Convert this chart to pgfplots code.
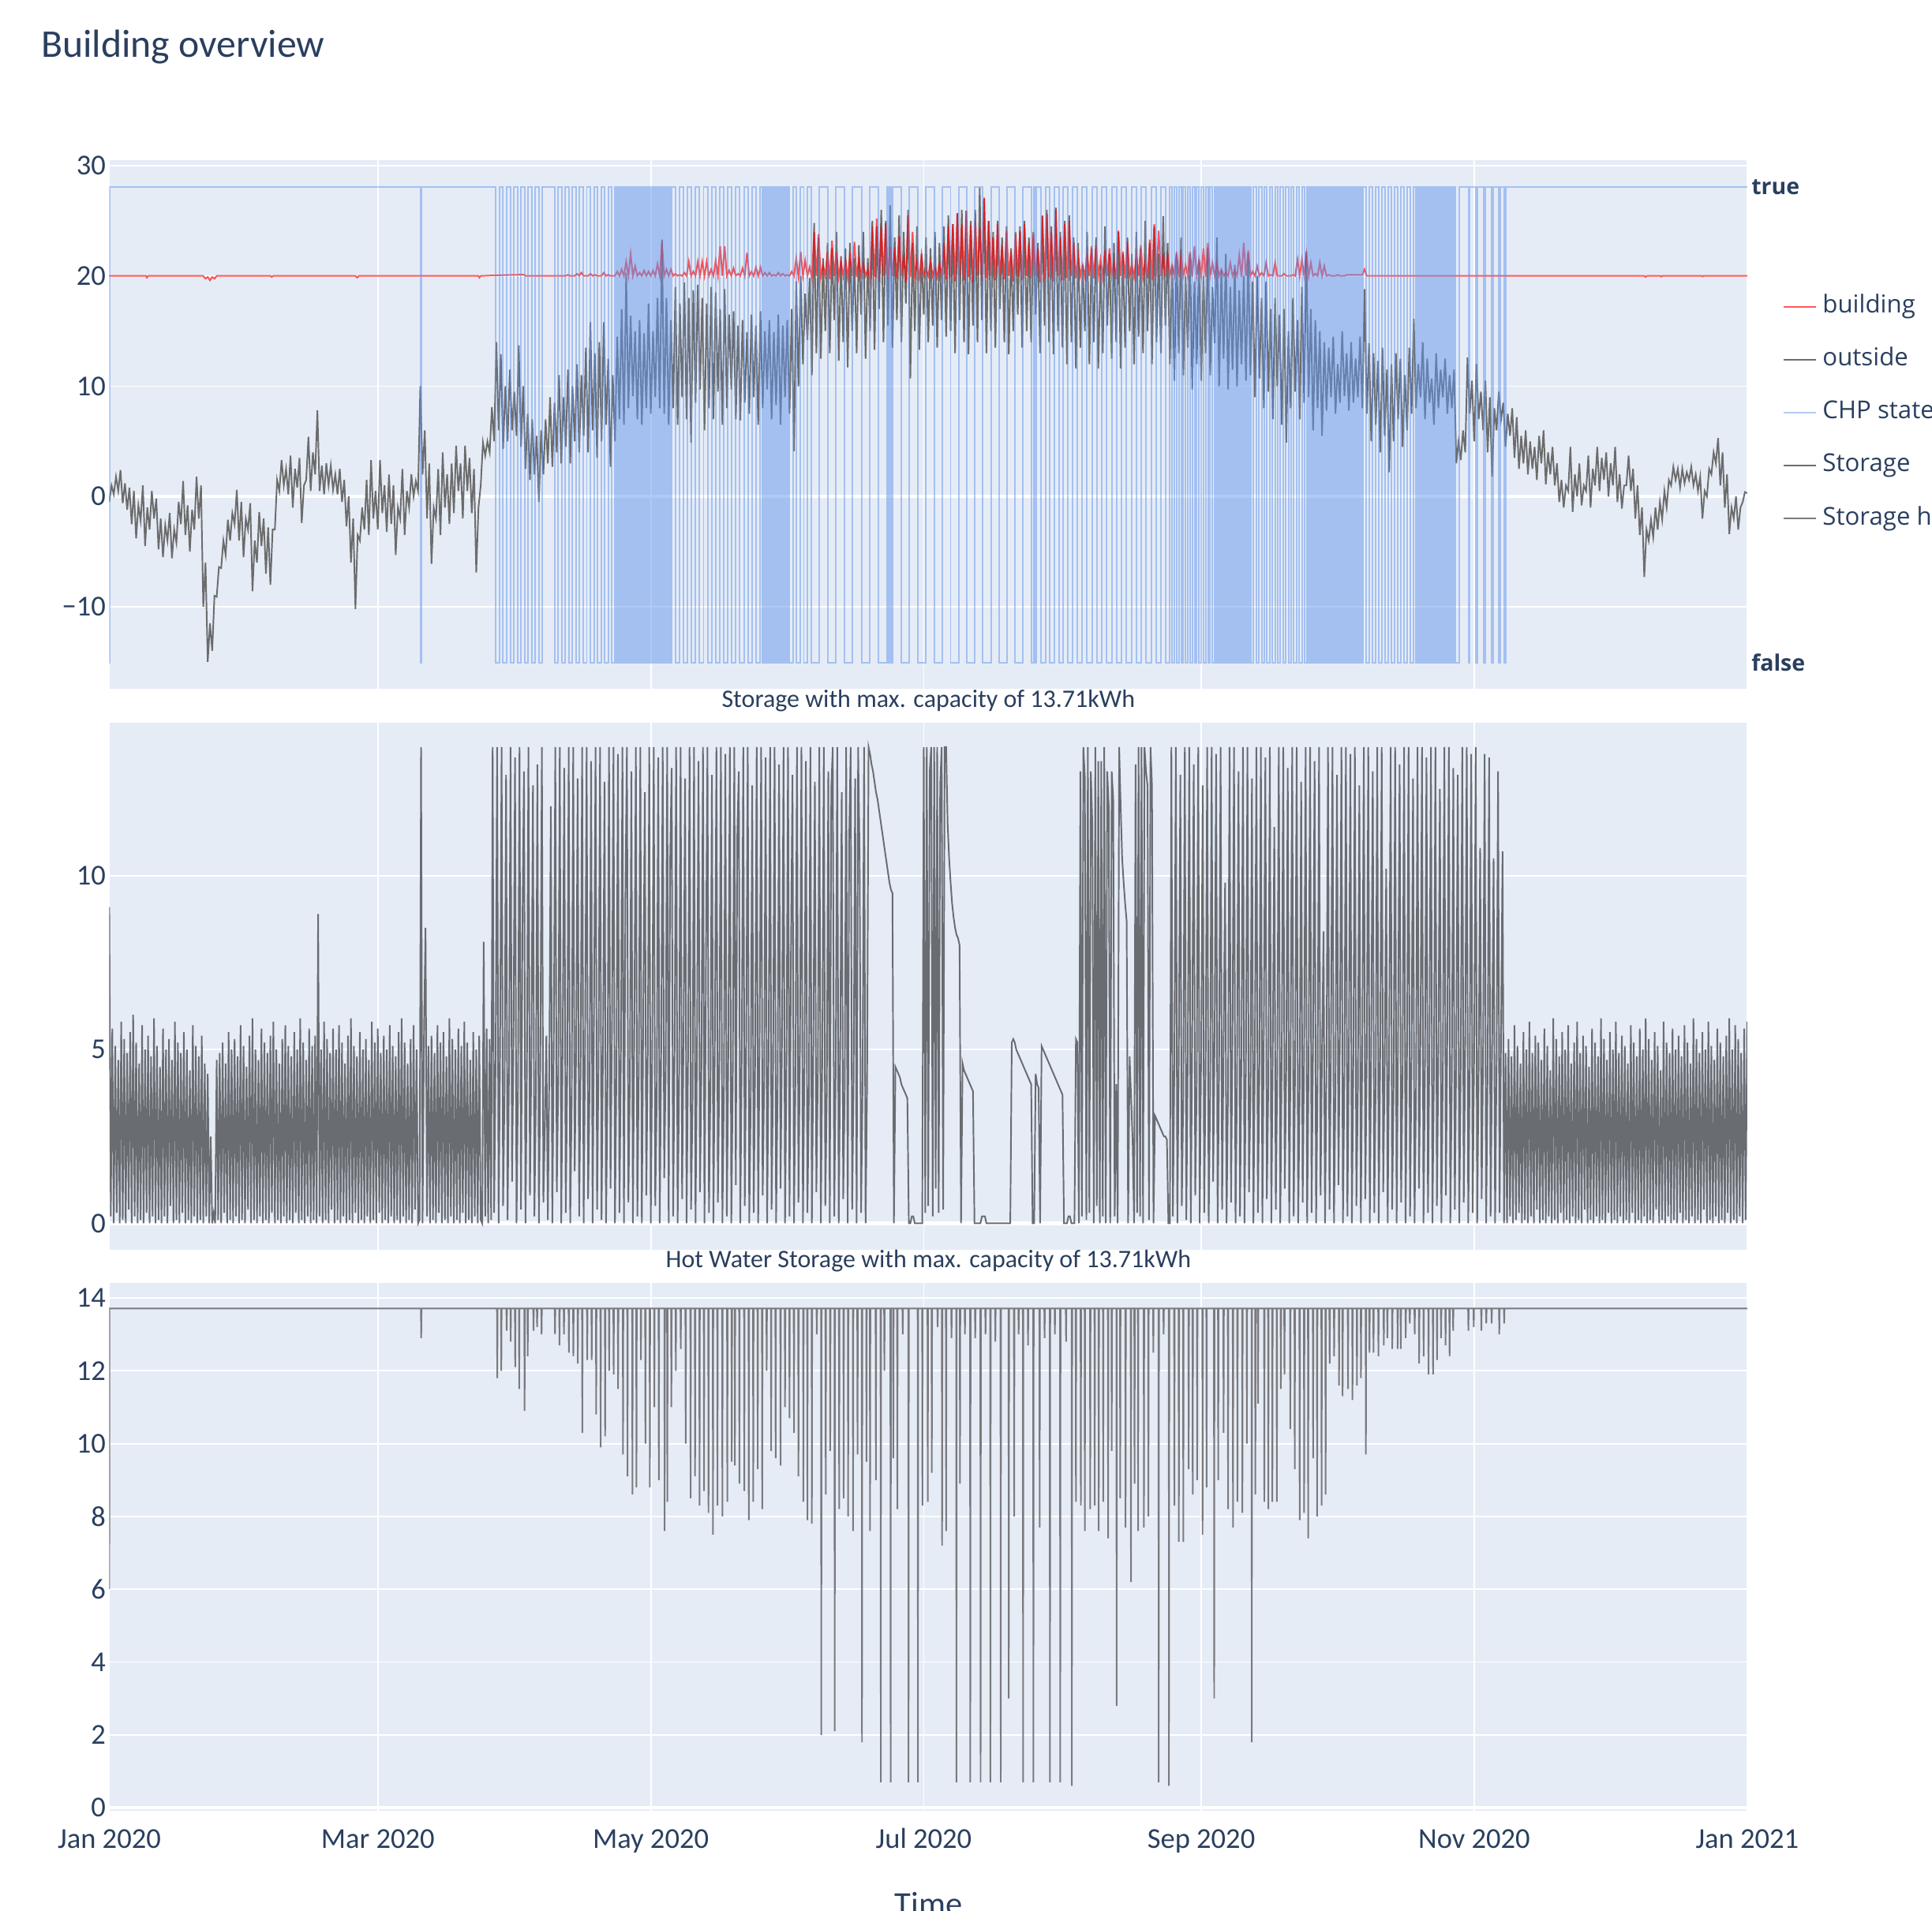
\documentclass[border=0pt]{standalone}
\usepackage{fontspec}
\setmainfont{Carlito}
\newfontfamily\osans{Open Sans}
\usepackage{pgfplots}
\usepackage{pgfplotstable}
\pgfplotsset{compat=1.18}
\definecolor{bgc}{HTML}{E5ECF6}
\definecolor{txt}{HTML}{2A3F5F}
\definecolor{chp}{RGB}{100,149,237}
\definecolor{gout}{RGB}{108,108,108}
\definecolor{gsto}{RGB}{105,108,113}
\definecolor{ghw}{RGB}{122,122,126}

\pgfplotstableread[header=false]{
-0.5
1.0
0.2
1.8
0.5
2.4
-0.6
1.2
-1.2
0.8
-2.5
0.5
-3.8
-0.8
-2.2
1.0
-4.5
-1.0
-3.0
0.5
-2.0
-0.2
-4.8
-2.0
-5.5
-2.6
-4.0
-1.5
-5.6
-3.0
-4.2
-0.5
-2.5
1.4
-3.5
-0.8
-5.0
-1.2
-3.0
1.8
-2.0
1.0
-10.0
-6.0
-15.0
-11.5
-14.0
-9.0
-9.1
-6.4
-6.5
-4.0
-5.3
-2.1
-4.0
-1.5
-2.5
0.6
-4.0
-0.5
-5.5
-2.0
-3.0
-0.6
-8.6
-4.0
-6.0
-1.4
-4.5
-2.0
-7.0
-2.8
-8.0
-3.0
-3.0
1.5
0.5
3.3
1.0
2.5
0.2
3.7
-1.0
2.5
0.8
3.5
-2.4
1.0
1.5
5.4
0.5
4.0
2.0
7.8
0.5
2.8
0.2
3.0
1.0
2.8
0.6
2.0
0.2
2.5
-0.5
1.5
-2.7
0.0
-6.0
-2.0
-10.2
-3.5
-4.0
-1.0
-3.0
1.5
-3.5
3.3
-2.0
0.5
-3.0
3.3
-1.5
1.0
-3.2
2.0
-2.5
1.0
-5.3
-1.0
-2.0
2.5
-3.5
0.5
-1.0
2.0
0.0
1.4
0.5
10.0
2.0
6.0
-2.0
3.0
-6.1
-1.0
-2.0
2.5
-3.5
4.0
-1.0
2.0
-2.5
3.0
-1.5
4.6
0.5
3.0
-2.0
4.6
0.5
3.5
-1.5
2.5
-6.9
-1.0
1.0
4.9
3.7
5.0
4.0
8.1
5.0
14.0
6.0
12.9
4.3
10.0
5.0
11.5
6.0
9.5
5.5
13.7
4.5
10.0
2.5
7.5
1.5
7.0
2.0
5.5
-0.5
6.0
2.0
7.0
3.0
9.0
2.7
8.5
4.0
11.0
3.0
9.0
4.5
11.5
3.0
10.0
5.0
12.0
4.0
11.0
5.5
13.5
4.0
15.8
6.0
13.0
3.5
14.0
5.0
15.8
6.5
12.5
2.7
11.0
5.0
14.5
7.0
17.0
6.5
20.3
8.0
16.4
9.1
15.0
7.0
16.0
6.5
14.8
8.0
17.5
7.5
15.0
9.0
18.0
8.0
23.3
7.5
18.0
6.5
16.0
8.0
19.0
6.5
17.5
9.0
19.4
7.0
18.0
4.9
18.7
8.5
19.2
9.7
18.0
6.0
17.5
8.0
19.0
7.0
18.5
9.5
17.0
6.5
18.8
8.0
16.5
9.7
16.8
7.0
15.5
6.9
16.0
8.5
14.9
7.5
16.5
9.0
15.5
6.5
16.8
8.0
15.0
9.7
16.0
7.0
14.9
8.3
16.5
6.5
15.5
9.0
16.0
7.5
17.0
4.1
19.5
10.0
20.0
12.0
18.4
14.2
19.8
11.0
24.8
13.0
23.5
12.5
21.6
15.0
23.0
13.0
22.5
16.0
24.0
12.3
21.8
14.0
22.5
11.7
23.0
15.0
21.6
13.0
22.8
16.5
24.0
12.5
21.6
15.0
25.0
13.3
24.5
17.0
26.0
14.0
25.0
15.5
26.4
13.5
23.5
16.0
25.5
14.0
24.0
17.5
26.0
10.7
23.0
15.0
24.5
13.3
22.0
16.5
23.5
14.0
22.5
15.5
24.0
13.5
23.0
16.0
24.5
14.5
25.5
15.0
24.7
13.0
25.7
16.0
26.0
14.0
25.9
12.9
25.0
15.5
26.0
14.0
28.0
16.0
27.0
13.0
25.0
15.0
24.0
13.5
25.0
17.0
23.5
14.0
24.5
12.9
22.5
15.0
24.0
16.5
24.5
13.5
25.0
15.0
23.5
14.0
24.0
16.5
23.0
13.0
25.5
15.5
26.0
14.0
24.5
12.9
26.2
15.0
24.0
13.5
25.0
12.0
25.5
14.0
23.5
11.6
23.0
13.5
21.0
15.0
24.0
12.0
22.5
14.0
23.5
11.6
21.0
13.0
24.5
15.5
22.0
12.5
23.0
14.0
24.0
11.6
22.0
13.5
23.5
15.0
22.0
12.0
24.0
14.5
22.5
13.0
25.0
15.0
23.0
12.0
24.5
14.0
22.0
13.0
25.4
15.5
23.0
12.0
21.0
10.5
22.0
13.0
23.5
11.0
20.0
13.5
22.0
9.7
19.5
12.0
21.5
10.5
20.0
13.0
22.5
11.0
19.0
13.9
23.5
10.0
20.5
12.5
22.0
9.7
19.0
11.5
21.0
10.0
18.7
12.0
20.0
10.5
22.0
11.0
19.5
9.0
20.0
10.7
18.0
8.0
19.5
9.5
17.0
7.0
18.0
10.0
16.5
6.5
17.0
4.9
15.0
8.0
18.0
9.5
16.0
7.0
19.0
8.5
22.2
9.0
17.0
6.0
16.0
8.0
15.0
5.5
14.0
7.8
13.5
9.0
14.5
7.5
12.0
8.5
15.0
9.1
13.0
7.8
14.0
8.5
12.5
9.0
14.5
8.0
18.8
7.5
13.9
5.0
13.0
6.5
12.3
4.0
13.5
5.5
11.5
2.2
12.0
5.0
13.0
7.0
12.5
4.5
11.0
6.0
13.5
7.5
16.1
8.0
12.0
9.0
14.0
7.0
12.5
8.5
10.7
6.5
13.0
8.0
11.5
9.0
12.5
7.5
11.0
8.0
11.5
3.0
5.0
3.3
6.0
4.0
12.6
7.5
10.5
5.0
12.0
7.0
9.5
6.0
10.5
4.0
9.0
1.8
8.0
6.0
9.5
7.0
8.5
4.5
7.5
5.5
8.0
3.5
7.2
2.5
5.5
3.0
6.0
2.0
5.0
2.5
4.5
1.5
5.5
3.0
6.0
1.1
4.0
2.0
4.5
1.0
3.0
-0.5
1.5
-1.0
1.0
0.5
4.5
-1.4
2.0
0.0
3.0
-0.8
1.0
0.5
3.7
-1.0
2.5
1.0
4.5
0.5
3.5
1.5
4.0
0.0
3.0
1.0
4.5
-0.5
2.0
-1.1
1.0
1.0
3.7
0.5
2.5
-2.0
1.0
-3.5
-1.0
-7.3
-3.0
-4.0
-2.1
-3.7
-1.0
-3.0
-0.5
-2.1
0.5
-1.0
1.5
1.0
2.7
1.5
2.5
0.8
2.5
1.2
2.2
1.5
2.7
1.0
2.0
0.5
1.8
-2.0
0.5
0.0
2.5
2.0
4.0
3.0
5.3
1.0
4.0
-1.0
2.0
-3.4
-1.0
-2.0
0.0
-3.0
-1.0
-0.5
0.4
0.3
}\outsidedata

\pgfplotstableread[header=false]{
20.0
20.0
20.0
20.0
20.0
20.1
20.0
20.0
20.0
20.2
20.0
20.3
20.0
20.0
20.0
20.2
20.0
20.1
20.0
20.0
20.0
20.3
20.0
20.1
20.0
20.0
20.0
20.4
20.0
20.6
20.0
21.3
20.0
22.0
20.0
20.9
20.0
20.3
20.0
20.5
20.0
20.4
20.0
20.5
20.0
21.1
20.0
23.0
20.0
20.6
20.0
20.6
20.0
20.2
20.0
20.1
20.0
20.3
20.0
21.3
20.0
20.4
20.0
21.3
20.0
21.3
20.0
21.3
20.0
20.6
20.0
21.4
20.0
22.7
20.0
22.7
20.0
20.5
20.0
20.7
20.0
20.2
20.0
20.7
20.0
22.1
20.0
20.4
20.0
20.8
20.0
20.8
20.0
20.3
20.0
20.3
20.0
20.1
20.0
20.3
20.0
20.2
20.0
20.1
20.0
20.4
20.0
21.6
19.9
22.2
20.0
21.4
20.0
20.8
19.8
24.0
20.0
23.8
19.9
21.0
20.0
22.2
19.7
23.2
20.0
22.2
19.9
21.3
20.0
21.5
19.8
21.9
20.0
23.1
19.9
21.5
20.0
21.1
20.0
20.6
19.6
24.5
19.9
25.2
19.5
24.5
20.0
24.8
19.7
22.6
20.0
22.6
19.8
23.6
20.0
21.9
19.4
25.5
19.9
24.0
20.0
21.3
19.8
21.9
20.0
20.6
20.0
21.3
20.0
20.8
19.9
21.1
20.0
23.0
19.7
24.5
19.9
24.7
19.5
25.7
20.0
24.7
19.6
25.9
19.9
24.6
19.4
25.0
20.0
24.4
19.5
27.1
19.8
25.0
20.0
23.5
19.6
24.7
20.0
22.7
19.7
24.1
20.0
22.2
19.5
23.8
19.9
24.1
19.6
24.7
20.0
23.0
19.8
23.8
20.0
22.5
19.4
25.4
19.7
25.7
19.9
24.0
19.5
26.0
20.0
23.5
19.6
24.7
19.8
25.0
20.0
23.0
19.8
21.9
20.0
21.0
19.9
22.0
20.0
22.7
19.8
22.8
20.0
21.5
19.9
22.3
20.0
22.5
20.0
21.2
19.7
24.1
20.0
22.2
19.8
23.1
20.0
21.0
19.9
21.9
20.0
22.8
19.9
21.4
19.8
23.3
19.6
24.7
19.9
24.1
20.0
22.0
19.9
21.9
20.0
21.0
20.0
22.2
19.9
21.9
20.0
21.0
20.0
22.2
19.9
22.7
20.0
21.5
20.0
22.5
19.9
23.0
20.0
21.2
20.0
21.2
20.0
20.6
20.0
20.3
20.0
21.2
20.0
20.5
20.0
21.9
19.9
23.0
20.0
22.3
20.0
20.4
20.0
20.9
20.0
20.3
20.0
21.2
20.0
20.1
20.0
21.2
20.0
20.0
20.0
20.2
20.0
20.0
20.0
20.1
20.0
21.5
20.0
21.5
20.0
22.0
20.0
21.2
20.0
20.2
20.0
21.2
20.0
20.9
20.0
20.1
20.0
20.0
20.0
20.1
20.0
20.0
20.0
20.1
20.1
20.1
20.1
20.1
20.1
20.1
20.1
20.6
20.0
20.0
20.0
}\buildingdata

\pgfplotstableread[header=false]{
9.1
0.2
5.6
0.0
5.1
0.3
4.7
0.0
5.8
0.1
5.3
0.0
4.9
0.4
5.5
0.0
6.0
0.2
5.2
0.0
4.6
0.1
5.7
0.0
5.0
0.3
5.4
0.0
4.8
0.2
5.9
0.0
5.1
0.1
4.5
0.0
5.6
0.2
5.0
0.0
5.3
0.5
4.7
0.0
5.8
0.1
5.2
0.0
4.9
0.3
5.5
0.0
5.0
0.1
4.4
0.0
5.7
0.2
5.1
0.0
4.8
0.1
5.4
0.0
4.6
0.2
4.3
0.0
2.5
0.0
0.3
0.0
4.7
0.1
4.9
0.0
5.2
0.3
4.6
0.0
5.5
0.1
5.0
0.0
5.3
0.2
4.8
0.0
5.7
0.1
5.1
0.0
4.5
0.4
5.4
0.0
5.9
0.1
5.0
0.0
4.7
0.2
5.6
0.0
5.2
0.1
4.9
0.0
5.4
0.3
5.8
0.0
5.0
0.1
4.6
0.0
5.3
0.2
5.7
0.0
5.1
0.1
4.8
0.0
5.5
0.3
5.0
0.0
5.9
0.1
5.2
0.0
4.7
0.2
5.6
0.0
5.1
0.1
5.4
0.0
8.9
0.2
5.0
0.0
5.8
0.1
5.3
0.0
4.9
0.4
5.6
0.0
5.0
0.1
5.7
0.0
5.2
0.2
4.6
0.0
5.4
0.1
5.9
0.0
5.1
0.3
4.8
0.0
5.5
0.1
5.0
0.0
5.3
0.2
4.7
0.0
5.8
0.1
5.2
0.0
5.6
0.3
4.9
0.0
5.4
0.1
5.0
0.0
5.7
0.2
5.1
0.0
4.8
0.1
5.5
0.0
5.9
0.2
5.2
0.0
4.6
0.1
5.3
0.0
5.7
0.4
5.0
0.0
0.1
13.7
0.0
5.6
8.5
0.2
5.1
0.0
5.4
0.1
4.9
0.0
5.7
0.3
5.2
0.0
5.5
0.1
4.8
0.0
5.9
0.2
5.3
0.0
5.0
0.1
5.6
0.0
5.1
0.3
5.8
0.0
5.2
0.1
4.7
0.0
5.5
0.2
5.0
0.0
5.4
0.1
0.0
8.1
0.2
5.6
0.0
5.3
0.1
13.7
0.3
4.8
13.7
0.0
5.2
13.7
0.5
3.9
12.9
0.1
4.6
13.7
1.2
5.5
13.4
0.0
4.1
13.7
0.4
8.7
13.0
0.0
4.6
13.7
0.8
5.0
12.6
0.2
3.8
13.2
0.0
4.9
13.7
0.6
2.8
5.4
0.1
4.5
12.0
0.0
5.3
13.7
0.9
4.2
13.7
0.0
5.6
13.1
0.3
4.4
13.7
0.0
3.6
13.7
1.5
5.1
12.8
0.2
4.7
13.7
0.0
5.4
13.7
0.7
4.0
13.3
0.0
6.5
13.7
0.4
4.8
13.7
0.1
5.2
12.7
0.0
3.9
13.7
1.0
5.7
13.7
0.0
4.5
13.5
0.3
5.0
13.7
0.0
9.5
13.7
0.6
4.3
13.0
0.0
5.8
13.7
0.2
4.6
13.7
0.0
6.2
12.4
0.8
4.9
13.7
0.0
5.3
13.7
0.5
3.7
13.4
0.0
5.0
13.7
1.3
4.4
13.7
0.0
10.5
13.1
0.2
5.1
13.7
0.0
4.2
13.7
0.7
5.6
12.8
0.0
4.8
13.7
0.4
3.5
13.7
0.0
5.2
13.3
0.9
4.6
13.7
0.0
7.6
13.7
0.3
4.0
12.9
0.0
5.5
13.7
0.6
4.7
13.7
0.0
3.8
13.5
0.2
5.0
13.7
0.0
4.4
13.7
1.1
11.2
13.0
0.0
4.9
13.7
0.5
5.3
13.7
0.0
3.6
12.6
0.3
4.8
13.7
0.0
5.6
13.7
0.8
4.1
13.4
0.0
5.0
13.7
0.4
4.5
13.7
0.0
3.9
13.2
1.0
5.4
13.7
0.0
4.7
13.7
0.2
8.0
12.9
0.0
4.3
13.7
0.6
5.1
13.7
0.0
4.6
13.3
0.3
3.7
13.7
0.0
5.2
12.7
0.9
4.4
13.7
0.0
4.9
13.7
0.5
3.8
13.0
0.0
12.5
13.7
0.2
4.6
13.7
0.0
5.0
12.4
0.7
3.9
13.7
0.0
11.0
13.7
0.4
4.3
12.8
0.0
13.7
10.5
0.3
4.1
13.7
0.0
4.0
13.7
13.5
13.2
13.0
12.7
12.4
12.2
11.9
11.6
11.3
11.0
10.7
10.4
10.1
9.8
9.6
9.5
0.0
4.5
4.4
4.3
4.2
4.0
3.9
3.8
3.7
3.6
0.0
0.0
0.2
0.2
0.0
0.0
0.0
0.0
0.0
0.0
13.7
0.3
13.7
0.5
13.0
13.7
0.2
13.7
1.0
13.7
0.3
12.6
13.7
0.4
13.7
13.7
11.5
10.5
9.8
9.2
8.8
8.5
8.3
8.2
8.0
0.0
4.6
4.4
4.3
4.2
4.1
4.0
3.9
3.8
0.0
0.0
0.0
0.0
0.0
0.2
0.2
0.2
0.0
0.0
0.0
0.0
0.0
0.0
0.0
0.0
0.0
0.0
0.0
0.0
0.0
0.0
0.0
0.0
0.0
5.2
5.3
5.2
5.0
4.9
4.8
4.7
4.6
4.5
4.4
4.3
4.2
4.1
4.0
0.0
0.0
4.3
4.0
3.9
0.0
5.1
5.0
4.9
4.8
4.7
4.6
4.5
4.4
4.3
4.2
4.1
4.0
3.9
3.8
3.7
0.0
0.0
0.0
0.2
0.2
0.0
0.0
0.0
5.3
5.2
0.0
13.0
0.2
13.7
12.8
0.1
13.7
0.3
13.0
11.5
0.0
13.7
0.5
13.3
0.0
13.3
0.2
13.7
0.0
13.0
12.0
0.0
13.0
12.2
0.2
4.0
0.0
13.7
12.0
10.5
9.8
9.2
8.7
0.0
4.8
3.6
2.4
0.0
13.2
0.3
13.7
0.2
13.7
0.0
13.7
13.0
12.6
0.1
13.7
12.6
0.0
3.1
3.0
2.9
2.8
2.7
2.6
2.5
2.5
2.4
0.0
0.0
13.7
0.2
4.5
13.7
0.0
5.0
12.9
0.5
3.8
13.7
0.1
4.9
13.7
0.0
5.6
13.2
0.8
4.2
13.7
0.0
5.1
12.6
0.3
4.7
13.7
0.0
3.9
13.7
1.2
5.4
13.5
0.0
4.6
13.7
0.4
5.2
9.8
0.0
4.0
13.7
0.6
5.7
13.7
0.0
4.3
13.0
0.2
5.0
13.7
0.0
4.8
13.7
0.9
3.7
12.8
0.0
5.3
13.7
0.3
4.5
13.7
0.0
5.9
13.4
0.7
4.1
13.7
0.0
5.2
11.4
0.4
4.6
13.7
0.0
5.0
13.7
1.0
4.4
13.1
0.0
5.5
13.7
0.2
4.8
13.7
0.0
3.9
12.7
0.6
5.1
13.7
0.0
4.7
13.7
0.3
5.4
13.3
0.0
4.2
13.7
0.8
5.0
8.4
0.0
4.6
13.7
0.4
5.3
13.7
0.0
4.0
12.9
1.1
5.6
13.7
0.0
4.4
13.7
0.2
5.1
13.5
0.0
4.7
13.7
0.5
3.8
12.6
0.0
5.2
13.7
0.7
4.9
13.7
0.0
5.5
13.0
0.3
4.3
13.7
0.0
5.0
13.7
0.9
4.6
10.2
0.0
5.3
13.7
0.4
4.1
13.7
0.0
5.7
13.2
0.6
4.5
13.7
0.0
5.1
13.7
0.2
4.8
12.8
0.0
3.9
13.7
1.0
5.4
13.7
0.0
4.6
13.4
0.3
5.2
13.7
0.0
4.4
13.7
0.5
5.0
12.5
0.0
4.7
13.7
0.8
5.5
13.7
0.0
4.2
13.1
0.4
5.1
12.9
0.0
4.8
13.7
0.6
5.3
13.7
0.0
4.5
13.5
0.3
5.0
13.7
0.0
4.6
10.8
0.7
5.2
13.5
0.0
4.4
13.4
0.2
5.0
10.5
0.0
4.7
13.0
0.3
5.4
10.7
0.0
4.9
0.0
5.3
0.2
4.8
0.0
5.7
0.1
5.1
0.3
4.6
0.0
5.5
0.1
5.0
0.0
5.8
0.2
4.9
0.0
5.4
0.4
5.2
0.0
4.7
0.1
5.6
0.0
5.1
0.2
4.4
0.0
5.9
0.1
5.3
0.0
4.8
0.3
5.5
0.0
5.0
0.1
5.7
0.0
4.6
0.2
5.2
0.0
5.8
0.1
4.9
0.0
5.4
0.4
5.1
0.0
4.5
0.1
5.6
0.0
5.2
0.2
4.8
0.0
5.9
0.1
5.3
0.0
4.7
0.3
5.5
0.0
5.0
0.1
5.8
0.0
4.9
0.2
5.4
0.0
5.1
0.1
4.6
0.0
5.7
0.3
5.2
0.0
4.8
0.1
5.6
0.0
5.0
0.2
5.9
0.0
5.3
0.1
4.7
0.0
5.5
0.4
5.1
0.0
4.4
0.1
5.8
0.0
5.2
0.2
4.9
0.0
5.6
0.1
5.0
0.0
5.4
0.3
4.8
0.0
5.7
0.1
5.2
0.0
4.6
0.2
5.9
0.0
5.3
0.1
4.9
0.0
5.5
0.4
5.0
0.0
5.8
0.1
5.1
0.0
4.7
0.2
5.6
0.0
5.2
0.1
4.8
0.0
5.4
0.3
5.9
0.0
5.0
0.1
5.7
0.0
5.3
0.2
4.9
0.0
5.6
0.1
5.8
}\storagedata

\pgfplotstableread[header=false]{
0 0
0.1 1
69.6 0
69.8 1
86.4 0
87.2 1
88.0 0
88.8 1
89.6 0
90.4 1
91.2 0
92.0 1
92.8 0
93.6 1
94.4 0
95.2 1
96.0 0
96.8 1
99.5 0
100.3 1
101.1 0
101.9 1
102.7 0
103.5 1
104.3 0
105.1 1
105.9 0
106.7 1
107.5 0
108.3 1
109.1 0
109.9 1
110.7 0
111.5 1
112.3 0
113.0 1
113.35 0
113.7 1
114.05 0
114.4 1
114.75 0
115.1 1
115.45 0
115.8 1
116.15 0
116.5 1
116.85 0
117.2 1
117.55 0
117.9 1
118.25 0
118.6 1
118.95 0
119.3 1
119.65 0
120.0 1
120.35 0
120.7 1
121.05 0
121.4 1
121.75 0
122.1 1
122.45 0
122.8 1
123.15 0
123.5 1
123.85 0
124.2 1
124.55 0
124.9 1
125.25 0
125.6 1
126.5 0
127.4 1
128.3 0
129.2 1
130.1 0
131.0 1
131.9 0
132.8 1
133.7 0
134.6 1
135.5 0
136.4 1
137.3 0
138.2 1
139.1 0
140.0 1
140.9 0
141.8 1
142.7 0
143.6 1
144.5 0
145.4 1
146.0 0
146.3 1
146.6 0
146.9 1
147.2 0
147.5 1
147.8 0
148.1 1
148.4 0
148.7 1
149.0 0
149.3 1
149.6 0
149.9 1
150.2 0
150.5 1
150.8 0
151.1 1
151.4 0
151.7 1
152.0 0
152.8 1
153.6 0
154.4 1
155.2 0
156.0 1
156.8 0
158.6 1
160.5 0
162.3 1
164.2 0
166.0 1
168.1 0
170.0 1
171.8 0
173.8 1
174.1 0
174.4 1
174.7 0
175.0 1
176.9 0
178.8 1
180.6 0
182.5 1
184.3 0
186.2 1
188.0 0
189.8 1
191.6 0
193.4 1
195.2 0
197.0 1
198.8 0
200.6 1
202.4 0
204.2 1
206.0 0
206.6 1
206.9 0
207.2 1
208.2 0
209.2 1
210.2 0
211.2 1
212.2 0
213.2 1
214.2 0
215.2 1
216.3 0
217.4 1
218.5 0
219.6 1
220.7 0
221.8 1
222.9 0
224.0 1
225.1 0
226.2 1
227.3 0
228.4 1
229.5 0
230.6 1
231.7 0
232.8 1
233.9 0
235.0 1
236.1 0
237.0 1
237.5 0
238.0 1
238.5 0
239.0 1
239.5 0
240.0 1
240.5 0
241.0 1
241.5 0
242.0 1
242.5 0
243.0 1
243.5 0
244.0 1
244.5 0
245.0 1
245.5 0
246.0 1
246.5 0
247.0 1
247.3 0
247.6 1
247.9 0
248.2 1
248.5 0
248.8 1
249.1 0
249.4 1
249.7 0
250.0 1
250.3 0
250.6 1
250.9 0
251.2 1
251.5 0
251.8 1
252.1 0
252.4 1
252.7 0
253.0 1
253.3 0
253.6 1
253.9 0
254.2 1
254.5 0
254.8 1
255.1 0
255.7 1
256.3 0
256.9 1
257.5 0
258.1 1
258.7 0
259.3 1
259.9 0
260.5 1
261.1 0
261.7 1
262.3 0
262.9 1
263.5 0
264.1 1
264.7 0
265.3 1
265.9 0
266.5 1
267.1 0
267.6 1
267.9 0
268.2 1
268.5 0
268.8 1
269.1 0
269.4 1
269.7 0
270.0 1
270.3 0
270.6 1
270.9 0
271.2 1
271.5 0
271.8 1
272.1 0
272.4 1
272.7 0
273.0 1
273.3 0
273.6 1
273.9 0
274.2 1
274.5 0
274.8 1
275.1 0
275.4 1
275.7 0
276.0 1
276.3 0
276.6 1
276.9 0
277.2 1
277.5 0
277.8 1
278.1 0
278.4 1
278.7 0
279.0 1
279.3 0
279.6 1
279.9 0
280.2 1
280.9 0
281.6 1
282.3 0
283.0 1
283.7 0
284.4 1
285.1 0
285.8 1
286.5 0
287.2 1
287.9 0
288.6 1
289.3 0
290.0 1
290.7 0
291.4 1
292.0 0
292.2 1
292.4 0
292.6 1
292.8 0
293.0 1
293.2 0
293.4 1
293.6 0
293.8 1
294.0 0
294.2 1
294.4 0
294.6 1
294.8 0
295.0 1
295.2 0
295.4 1
295.6 0
295.8 1
296.0 0
296.2 1
296.4 0
296.6 1
296.8 0
297.0 1
297.2 0
297.4 1
297.6 0
297.8 1
298.0 0
298.2 1
298.4 0
298.6 1
298.8 0
299.0 1
299.2 0
299.4 1
299.6 0
299.8 1
300.0 0
300.2 1
300.4 0
300.6 1
300.8 0
301.6 1
303.7 0
304.0 1
305.4 0
305.7 1
307.2 0
307.5 1
308.9 0
309.2 1
310.5 0
310.8 1
311.7 0
312.0 1
366 1
}\chpdata

\pgfplotstableread[header=false]{
0 6.0
0.05 13.71
69.63 13.71
69.7 12.9
69.77 13.71
86.63 13.71
86.7 11.8
86.77 13.71
87.53 13.71
87.6 12.0
87.67 13.71
88.73 13.71
88.8 13.1
88.87 13.71
89.63 13.71
89.7 12.8
89.77 13.71
90.63 13.71
90.7 12.1
90.77 13.71
91.53 13.71
91.6 11.5
91.67 13.71
92.73 13.71
92.8 10.9
92.87 13.71
93.43 13.71
93.5 12.4
93.57 13.71
94.73 13.71
94.8 13.1
94.87 13.71
95.53 13.71
95.6 13.2
95.67 13.71
96.53 13.71
96.6 13.0
96.67 13.71
99.53 13.71
99.6 13.0
99.67 13.71
100.53 13.71
100.6 12.7
100.67 13.71
101.53 13.71
101.6 13.0
101.67 13.71
102.63 13.71
102.7 12.5
102.77 13.71
103.63 13.71
103.7 12.4
103.77 13.71
104.63 13.71
104.7 12.2
104.77 13.71
105.63 13.71
105.7 10.3
105.77 13.71
106.73 13.71
106.8 12.3
106.87 13.71
107.73 13.71
107.8 12.3
107.87 13.71
108.73 13.71
108.8 10.8
108.87 13.71
109.73 13.71
109.8 9.9
109.87 13.71
110.73 13.71
110.8 10.2
110.87 13.71
111.63 13.71
111.7 12.0
111.77 13.71
112.63 13.71
112.7 11.9
112.77 13.71
113.63 13.71
113.7 11.5
113.77 13.71
114.73 13.71
114.8 9.7
114.87 13.71
115.73 13.71
115.8 9.1
115.87 13.71
116.83 13.71
116.9 8.6
116.97 13.71
117.73 13.71
117.8 8.8
117.87 13.71
118.73 13.71
118.8 12.3
118.87 13.71
119.73 13.71
119.8 10.0
119.87 13.71
120.73 13.71
120.8 8.8
120.87 13.71
121.73 13.71
121.8 11.0
121.87 13.71
122.73 13.71
122.8 9.0
122.87 13.71
124.03 13.71
124.1 7.6
124.17 13.71
124.63 13.71
124.7 8.4
124.77 13.71
125.53 13.71
125.6 11.0
125.67 13.71
126.53 13.71
126.6 12.0
126.67 13.71
127.63 13.71
127.7 12.6
127.77 13.71
128.73 13.71
128.8 10.0
128.87 13.71
129.83 13.71
129.9 8.5
129.97 13.71
130.83 13.71
130.9 9.1
130.97 13.71
131.83 13.71
131.9 8.3
131.97 13.71
132.83 13.71
132.9 8.7
132.97 13.71
133.83 13.71
133.9 8.1
133.97 13.71
134.83 13.71
134.9 7.5
134.97 13.71
135.83 13.71
135.9 8.3
135.97 13.71
136.93 13.71
137.0 8.0
137.07 13.71
138.03 13.71
138.1 8.4
138.17 13.71
139.03 13.71
139.1 9.5
139.17 13.71
139.73 13.71
139.8 9.4
139.87 13.71
140.73 13.71
140.8 8.9
140.87 13.71
141.83 13.71
141.9 8.7
141.97 13.71
142.83 13.71
142.9 7.9
142.97 13.71
143.83 13.71
143.9 8.4
143.97 13.71
144.83 13.71
144.9 9.3
144.97 13.71
145.83 13.71
145.9 8.2
145.97 13.71
146.83 13.71
146.9 12.0
146.97 13.71
147.83 13.71
147.9 9.8
147.97 13.71
148.83 13.71
148.9 9.6
148.97 13.71
149.93 13.71
150.0 9.4
150.07 13.71
150.93 13.71
151.0 11.0
151.07 13.71
151.93 13.71
152.0 10.7
152.07 13.71
152.93 13.71
153.0 10.3
153.07 13.71
153.93 13.71
154.0 9.1
154.07 13.71
155.03 13.71
155.1 8.4
155.17 13.71
155.93 13.71
156.0 7.9
156.07 13.71
156.93 13.71
157.0 7.8
157.07 13.71
158.03 13.71
158.1 13.0
158.17 13.71
159.03 13.71
159.1 2.0
159.17 13.71
160.03 13.71
160.1 8.6
160.17 13.71
161.03 13.71
161.1 9.8
161.17 13.71
162.03 13.71
162.1 2.1
162.17 13.71
163.03 13.71
163.1 8.2
163.17 13.71
164.03 13.71
164.1 8.5
164.17 13.71
165.03 13.71
165.1 8.0
165.17 13.71
166.13 13.71
166.2 7.6
166.27 13.71
167.13 13.71
167.2 9.7
167.27 13.71
168.13 13.71
168.2 1.8
168.27 13.71
169.13 13.71
169.2 9.5
169.27 13.71
169.93 13.71
170.0 7.6
170.07 13.71
171.23 13.71
171.3 9.0
171.37 13.71
172.33 13.71
172.4 0.7
172.47 13.71
173.13 13.71
173.2 12.0
173.27 13.71
174.53 13.71
174.6 0.7
174.67 13.71
175.13 13.71
175.2 9.6
175.27 13.71
176.03 13.71
176.1 8.2
176.17 13.71
177.23 13.71
177.3 13.0
177.37 13.71
178.53 13.71
178.6 0.7
178.67 13.71
180.63 13.71
180.7 0.7
180.77 13.71
181.63 13.71
181.7 8.3
181.77 13.71
182.83 13.71
182.9 8.4
182.97 13.71
183.73 13.71
183.8 9.2
183.87 13.71
185.03 13.71
185.1 13.2
185.17 13.71
186.03 13.71
186.1 7.2
186.17 13.71
186.93 13.71
187.0 7.6
187.07 13.71
188.13 13.71
188.2 12.9
188.27 13.71
189.23 13.71
189.3 0.7
189.37 13.71
190.03 13.71
190.1 8.9
190.17 13.71
191.13 13.71
191.2 13.0
191.27 13.71
192.33 13.71
192.4 0.7
192.47 13.71
193.43 13.71
193.5 12.9
193.57 13.71
194.63 13.71
194.7 0.7
194.77 13.71
195.73 13.71
195.8 13.0
195.87 13.71
196.83 13.71
196.9 0.7
196.97 13.71
197.93 13.71
198.0 12.8
198.07 13.71
199.13 13.71
199.2 0.7
199.27 13.71
200.93 13.71
201.0 3.0
201.07 13.71
202.13 13.71
202.2 8.0
202.27 13.71
203.13 13.71
203.2 13.0
203.27 13.71
204.13 13.71
204.2 0.7
204.27 13.71
205.23 13.71
205.3 12.7
205.37 13.71
206.43 13.71
206.5 0.7
206.57 13.71
207.83 13.71
207.9 7.7
207.97 13.71
208.93 13.71
209.0 12.9
209.07 13.71
210.13 13.71
210.2 0.7
210.27 13.71
211.23 13.71
211.3 13.0
211.37 13.71
212.43 13.71
212.5 0.7
212.57 13.71
213.73 13.71
213.8 12.8
213.87 13.71
215.03 13.71
215.1 0.6
215.17 13.71
215.93 13.71
216.0 8.4
216.07 13.71
217.03 13.71
217.1 8.3
217.17 13.71
217.93 13.71
218.0 7.6
218.07 13.71
219.13 13.71
219.2 8.2
219.27 13.71
220.13 13.71
220.2 8.3
220.27 13.71
221.03 13.71
221.1 7.6
221.17 13.71
222.03 13.71
222.1 8.4
222.17 13.71
223.13 13.71
223.2 7.4
223.27 13.71
223.93 13.71
224.0 9.8
224.07 13.71
225.03 13.71
225.1 2.8
225.17 13.71
225.83 13.71
225.9 8.5
225.97 13.71
227.03 13.71
227.1 7.7
227.17 13.71
228.23 13.71
228.3 6.2
228.37 13.71
229.03 13.71
229.1 8.9
229.17 13.71
229.83 13.71
229.9 7.6
229.97 13.71
231.13 13.71
231.2 7.7
231.27 13.71
232.13 13.71
232.2 8.0
232.27 13.71
233.23 13.71
233.3 12.5
233.37 13.71
234.43 13.71
234.5 0.7
234.57 13.71
235.53 13.71
235.6 13.0
235.67 13.71
236.73 13.71
236.8 0.6
236.87 13.71
237.93 13.71
238.0 8.3
238.07 13.71
238.93 13.71
239.0 7.3
239.07 13.71
239.93 13.71
240.0 7.3
240.07 13.71
241.13 13.71
241.2 9.3
241.27 13.71
242.03 13.71
242.1 8.6
242.17 13.71
243.03 13.71
243.1 9.0
243.17 13.71
244.23 13.71
244.3 7.5
244.37 13.71
245.13 13.71
245.2 8.8
245.27 13.71
246.83 13.71
246.9 3.0
246.97 13.71
247.73 13.71
247.8 9.0
247.87 13.71
248.93 13.71
249.0 10.3
249.07 13.71
249.93 13.71
250.0 8.2
250.07 13.71
251.03 13.71
251.1 7.7
251.17 13.71
252.03 13.71
252.1 8.4
252.17 13.71
253.13 13.71
253.2 8.1
253.27 13.71
254.13 13.71
254.2 10.0
254.27 13.71
255.23 13.71
255.3 1.8
255.37 13.71
256.03 13.71
256.1 8.6
256.17 13.71
256.63 13.71
256.7 11.1
256.77 13.71
258.03 13.71
258.1 8.4
258.17 13.71
258.93 13.71
259.0 8.2
259.07 13.71
259.83 13.71
259.9 8.4
259.97 13.71
260.83 13.71
260.9 8.4
260.97 13.71
261.73 13.71
261.8 11.5
261.87 13.71
262.53 13.71
262.6 11.9
262.67 13.71
263.83 13.71
263.9 10.4
263.97 13.71
264.83 13.71
264.9 9.3
264.97 13.71
265.93 13.71
266.0 7.9
266.07 13.71
266.93 13.71
267.0 8.1
267.07 13.71
267.83 13.71
267.9 7.4
267.97 13.71
268.93 13.71
269.0 9.6
269.07 13.71
269.83 13.71
269.9 8.0
269.97 13.71
270.83 13.71
270.9 8.3
270.97 13.71
271.73 13.71
271.8 8.6
271.87 13.71
272.63 13.71
272.7 12.2
272.77 13.71
273.63 13.71
273.7 12.4
273.77 13.71
274.73 13.71
274.8 11.6
274.87 13.71
275.53 13.71
275.6 11.3
275.67 13.71
276.73 13.71
276.8 11.5
276.87 13.71
277.73 13.71
277.8 11.2
277.87 13.71
278.73 13.71
278.8 11.6
278.87 13.71
279.63 13.71
279.7 11.8
279.77 13.71
280.73 13.71
280.8 9.7
280.87 13.71
281.53 13.71
281.6 12.5
281.67 13.71
282.43 13.71
282.5 12.5
282.57 13.71
283.53 13.71
283.6 12.4
283.67 13.71
284.73 13.71
284.8 12.7
284.87 13.71
285.53 13.71
285.6 12.9
285.67 13.71
286.63 13.71
286.7 12.6
286.77 13.71
287.83 13.71
287.9 12.6
287.97 13.71
288.53 13.71
288.6 12.6
288.67 13.71
289.63 13.71
289.7 12.9
289.77 13.71
290.53 13.71
290.6 13.3
290.67 13.71
291.63 13.71
291.7 13.0
291.77 13.71
292.63 13.71
292.7 12.2
292.77 13.71
293.63 13.71
293.7 12.4
293.77 13.71
294.73 13.71
294.8 11.9
294.87 13.71
295.73 13.71
295.8 11.9
295.87 13.71
296.63 13.71
296.7 12.3
296.77 13.71
297.53 13.71
297.6 12.9
297.67 13.71
298.53 13.71
298.6 12.7
298.67 13.71
299.43 13.71
299.5 12.4
299.57 13.71
300.23 13.71
300.3 13.1
300.37 13.71
303.63 13.71
303.7 13.1
303.77 13.71
304.83 13.71
304.9 13.2
304.97 13.71
306.53 13.71
306.6 13.1
306.67 13.71
307.63 13.71
307.7 13.3
307.77 13.71
308.83 13.71
308.9 13.3
308.97 13.71
310.53 13.71
310.6 13.0
310.67 13.71
311.63 13.71
311.7 13.3
311.77 13.71
366 13.71
}\hotdata

\pgfplotsset{
  panel/.style={
    scale only axis, width=531.72pt, xmin=0, xmax=366, anchor=south west,
    axis background/.style={fill=bgc},
    axis line style={draw=none}, major tick length=0pt,
    grid=major, major grid style={white, line width=0.5pt},
    xtick={0,60,121,182,244,305,366},
    xticklabel=\empty,
    tick label style={font=\fontsize{9.36}{11}\selectfont, text=txt},
    yticklabel style={anchor=east, inner sep=0pt, xshift=-1pt},
    extra y ticks={0}, extra y tick labels={},
    extra y tick style={major grid style={white, line width=1.1pt}},
  }
}

\begin{document}
\begin{tikzpicture}
\node[anchor=base west, font=\fontsize{12.75}{15}\selectfont, text=txt, inner sep=0pt] at (13.2pt,601.8pt) {Building overview};

\begin{axis}[panel, at={(35.48pt,396.72pt)}, height=171.56pt,
  ymin=-17.44, ymax=30.47, ytick={-10,0,10,20,30}, yticklabels={−10,0,10,20,30},
  legend style={at={(1.0218,0.7465)}, anchor=north west, draw=none, fill=none, inner sep=0pt, outer sep=0pt,
    font=\osans\fontsize{8}{9.6}\selectfont, text=txt, row sep=9.2pt,
    nodes={inner sep=0pt, text height=6pt, text depth=2pt},
    /tikz/every odd column/.append style={column sep=2pt}},
  legend cell align=left,
  legend image code/.code={\draw[#1] (0pt,0pt) -- (10.4pt,0pt);}]
\addplot[forget plot, gout, line width=0.5pt] table[x expr=\coordindex*0.5, y index=0] \outsidedata;
\addplot[forget plot, red, opacity=0.65, line width=0.5pt] coordinates {(0,20.0) (8.2,20.0) (8.4,19.85) (8.7,20.0) (21,20.0) (21.5,19.75) (22,19.9) (22.5,19.6) (23,19.9) (23.5,19.75) (24,20.0) (36,20.0) (36.3,19.9) (36.6,20.0) (55,20.0) (55.4,19.85) (55.8,20.0) (82.5,20.0) (82.7,19.85) (83,20.0) (86,20.05) (92.6,20.12) (93,20.0) (100,20.0)};
\addplot[forget plot, red, opacity=0.65, line width=0.5pt] table[x expr=100+\coordindex*0.5, y index=0] \buildingdata;
\addplot[forget plot, red, opacity=0.65, line width=0.5pt] coordinates {(282,20.0) (343,20.0) (343.3,19.9) (343.6,20.0) (346.6,20.0) (346.8,19.93) (347,20.0) (355.8,20.0) (356,19.95) (356.2,20.0) (366,20.0)};
\addlegendimage{red, opacity=0.65, line width=0.5pt}
\addlegendentry{building}
\addlegendimage{gout, line width=0.5pt}
\addlegendentry{outside}
\addlegendimage{chp, opacity=0.5, line width=0.5pt}
\addlegendentry{CHP state}
\addlegendimage{gsto, line width=0.5pt}
\addlegendentry{Storage}
\addlegendimage{ghw, line width=0.5pt}
\addlegendentry{Storage hot water}
\end{axis}

\begin{axis}[scale only axis, width=531.72pt, height=171.56pt, at={(35.48pt,396.72pt)}, anchor=south west,
  xmin=0, xmax=366, ymin=-0.0554, ymax=1.0554,
  axis x line=none, axis y line*=right, axis line style={draw=none}, major tick length=0pt,
  ytick={0,1}, yticklabels={false,true},
  yticklabel style={anchor=west, inner sep=0pt, xshift=1.2pt, font=\osans\bfseries\fontsize{7.3}{8.5}\selectfont, text=txt}]
\addplot[const plot, chp, opacity=0.5, line width=0.5pt] table[x index=0, y index=1] \chpdata;
\end{axis}

\node[anchor=base, font=\fontsize{8.2}{10}\selectfont, text=txt, inner sep=0pt] at (301.4pt,390.68pt) {Storage with max. capacity of 13.71kWh};

\begin{axis}[panel, at={(35.48pt,214.56pt)}, height=171.24pt,
  ymin=-0.762, ymax=14.41, ytick={0,5,10}, yticklabels={0,5,10}]
\addplot[gsto, line width=0.5pt] table[x expr=\coordindex/3, y index=0] \storagedata;
\end{axis}

\node[anchor=base, font=\fontsize{8.2}{10}\selectfont, text=txt, inner sep=0pt] at (301.4pt,208.76pt) {Hot Water Storage with max. capacity of 13.71kWh};

\begin{axis}[panel, at={(35.48pt,32.28pt)}, height=171.6pt,
  ymin=-0.095, ymax=14.42, ytick={0,2,4,6,8,10,12,14}, yticklabels={0,2,4,6,8,10,12,14},
  xticklabels={Jan 2020,Mar 2020,May 2020,Jul 2020,Sep 2020,Nov 2020,Jan 2021},
  xticklabel style={anchor=base, inner sep=0pt, yshift=-12.1pt}]
\addplot[ghw, line width=0.5pt] table[x index=0, y index=1] \hotdata;
\end{axis}

\node[anchor=north, font=\fontsize{10.9}{13}\selectfont, text=txt, inner sep=0pt] at (301.4pt,6.2pt) {Time};

\pgfresetboundingbox
\path[use as bounding box] (0pt,0pt) rectangle (627.2pt,620.4pt);
\end{tikzpicture}
\end{document}
